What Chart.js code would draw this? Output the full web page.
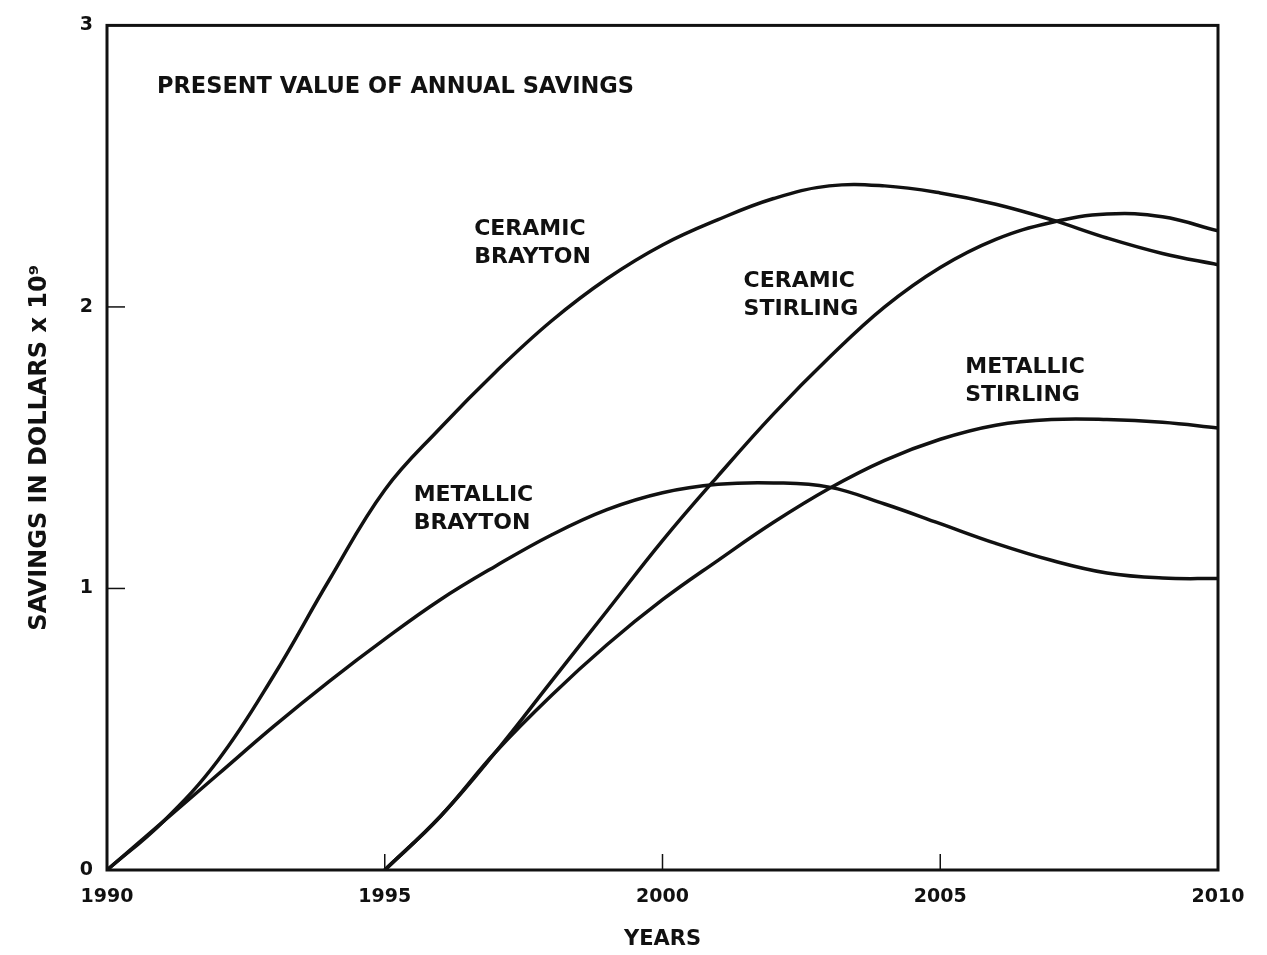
<!DOCTYPE html>
<html><head><meta charset="utf-8">
<script src="https://cdn.jsdelivr.net/npm/chart.js@4/dist/chart.umd.min.js"></script>
<style>html,body{margin:0;padding:0;background:#fff;overflow:hidden}#wrap{width:1267px;height:955px}</style>
</head><body><div id="wrap"><canvas id="c" width="1267" height="955"></canvas></div>
<script>
// ---- data ----
const years = [1990,1991,1992,1993,1994,1995,1996,1997,1998,1999,2000,2001,2002,2003,2004,2005,2006,2007,2008,2009,2010];
const ceramicBrayton  = [0,0.17,0.39,0.69,1.03,1.35,1.57,1.77,1.95,2.10,2.22,2.31,2.385,2.43,2.43,2.405,2.365,2.31,2.245,2.19,2.15];
const metallicBrayton = [0,0.17,0.34,0.51,0.67,0.82,0.96,1.08,1.19,1.28,1.34,1.37,1.375,1.36,1.30,1.23,1.16,1.10,1.055,1.037,1.035];
const stirlingYears = [1995,1996,1997,1998,1999,2000,2001,2002,2003,2004,2005,2006,2007,2008,2009,2010];
const ceramicStirling  = [0,0.19,0.42,0.67,0.92,1.17,1.40,1.62,1.82,2.00,2.14,2.24,2.30,2.33,2.32,2.27];
const metallicStirling = [0,0.19,0.42,0.62,0.80,0.96,1.10,1.235,1.355,1.455,1.53,1.58,1.60,1.60,1.59,1.57];
const xTickValues = [1990,1995,2000,2005,2010];
const yTickValues = [0,1,2,3];
const seriesLabels = [
  {lines:['CERAMIC','BRAYTON'], x:1996.61, y:2.275},
  {lines:['CERAMIC','STIRLING'], x:2001.46, y:2.09},
  {lines:['METALLIC','STIRLING'], x:2005.45, y:1.785},
  {lines:['METALLIC','BRAYTON'], x:1995.52, y:1.33}
];
const chartTitle = {text:'PRESENT VALUE OF ANNUAL SAVINGS', x:1990.9, y:2.78};
const xTitle = 'YEARS';
const yTitle = 'SAVINGS IN DOLLARS x 10\u2079';

const FONT = '"DejaVu Sans", sans-serif';
const INK = '#111';

function pts(xs, ys){ return xs.map((x,i)=>({x:x,y:ys[i]})); }
function ds(data){ return {data:data, borderColor:INK, borderWidth:3.5, pointRadius:0, fill:false, tension:0.4}; }

const decor = {
  id:'decor',
  afterDatasetsDraw(chart){
    const {ctx, chartArea:a, scales:{x, y}} = chart;
    ctx.save();
    ctx.strokeStyle = INK;
    ctx.lineWidth = 3;
    ctx.strokeRect(a.left, a.top, a.right - a.left, a.bottom - a.top);
    ctx.lineWidth = 1.5;
    xTickValues.slice(1,-1).forEach(v=>{
      const px = x.getPixelForValue(v);
      ctx.beginPath(); ctx.moveTo(px, a.bottom); ctx.lineTo(px, a.bottom - 16); ctx.stroke();
    });
    yTickValues.slice(1,-1).forEach(v=>{
      const py = y.getPixelForValue(v);
      ctx.beginPath(); ctx.moveTo(a.left, py); ctx.lineTo(a.left + 18, py); ctx.stroke();
    });
    ctx.fillStyle = INK;
    ctx.textBaseline = 'middle';
    ctx.textAlign = 'left';
    ctx.font = 'bold 22.5px ' + FONT;
    ctx.fillText(chartTitle.text, x.getPixelForValue(chartTitle.x), y.getPixelForValue(chartTitle.y));
    ctx.font = 'bold 22px ' + FONT;
    seriesLabels.forEach(l=>{
      const px = x.getPixelForValue(l.x), py = y.getPixelForValue(l.y);
      l.lines.forEach((t,i)=>ctx.fillText(t, px, py + i*28));
    });
    ctx.restore();
  }
};

new Chart(document.getElementById('c'), {
  type:'line',
  data:{datasets:[
    ds(pts(years, ceramicBrayton)),
    ds(pts(years, metallicBrayton)),
    ds(pts(stirlingYears, ceramicStirling)),
    ds(pts(stirlingYears, metallicStirling))
  ]},
  options:{
    responsive:false, animation:false, devicePixelRatio:1,
    layout:{padding:{left:0, right:49, top:18, bottom:0}},
    plugins:{legend:{display:false}, tooltip:{enabled:false}},
    scales:{
      x:{type:'linear', min:1990, max:2010,
        afterFit(s){ s.height = 85; },
        afterBuildTicks(s){ s.ticks = xTickValues.map(v=>({value:v})); },
        grid:{display:false, drawTicks:false},
        border:{display:false},
        ticks:{color:INK, padding:16, maxRotation:0, font:{family:FONT, weight:'bold', size:19}, callback:v=>String(v)},
        title:{display:true, text:xTitle, color:INK, font:{family:FONT, weight:'bold', size:21}, padding:{top:0,bottom:3}}
      },
      y:{type:'linear', min:0, max:3,
        afterFit(s){ s.width = 107; },
        afterBuildTicks(s){ s.ticks = yTickValues.map(v=>({value:v})); },
        grid:{display:false, drawTicks:false},
        border:{display:false},
        ticks:{color:INK, padding:14, font:{family:FONT, weight:'bold', size:19}, callback:v=>String(v)},
        title:{display:true, text:yTitle, color:INK, font:{family:FONT, weight:'bold', size:24}, padding:{top:25,bottom:0}}
      }
    }
  },
  plugins:[decor]
});
</script></body></html>
